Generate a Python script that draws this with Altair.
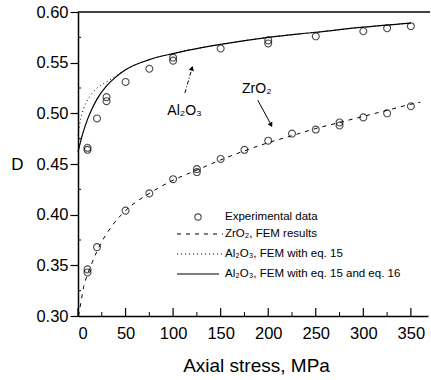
import altair as alt
import pandas as pd

al_x = [10, 10, 20, 30, 30, 50, 75, 100, 100, 150, 200, 200, 250, 300, 325, 350]
al_y = [0.466, 0.464, 0.495, 0.516, 0.512, 0.531, 0.544, 0.555, 0.552, 0.564, 0.572, 0.569, 0.576, 0.581, 0.584, 0.586]
zr_x = [10, 10, 20, 50, 75, 100, 125, 125, 150, 175, 200, 225, 250, 275, 275, 300, 325, 350]
zr_y = [0.346, 0.343, 0.368, 0.404, 0.421, 0.435, 0.445, 0.442, 0.455, 0.464, 0.473, 0.480, 0.484, 0.491, 0.488, 0.496, 0.500, 0.507]

# FEM curves
zr_fem_x = [0.5, 3, 6, 10, 15, 20, 35, 50, 75, 100, 125, 150, 175, 200, 225, 250, 275, 300, 325, 350, 360]
zr_fem_y = [0.300, 0.313, 0.329, 0.341, 0.353, 0.364, 0.388, 0.404, 0.421, 0.434, 0.444, 0.454, 0.463, 0.471, 0.478, 0.485, 0.491, 0.497, 0.503, 0.509, 0.511]
al15_x = [0, 3, 6, 10, 15, 20, 30, 40, 50, 75, 100, 150, 200, 250, 300, 350]
al15_y = [0.478, 0.495, 0.505, 0.513, 0.520, 0.525, 0.531, 0.537, 0.543, 0.553, 0.559, 0.568, 0.575, 0.580, 0.585, 0.589]
al16_x = [0, 5, 10, 15, 20, 30, 40, 50, 75, 100, 150, 200, 250, 300, 350]
al16_y = [0.462, 0.480, 0.494, 0.505, 0.514, 0.527, 0.536, 0.543, 0.553, 0.559, 0.568, 0.575, 0.580, 0.585, 0.589]

x_major = [0, 50, 100, 150, 200, 250, 300, 350]
x_minor = [25, 75, 125, 175, 225, 275, 325]
y_major = [0.30, 0.35, 0.40, 0.45, 0.50, 0.55, 0.60]
y_minor = [0.325, 0.375, 0.425, 0.475, 0.525, 0.575]

legend_labels = ["Experimental data", "ZrO₂, FEM results", "Al₂O₃, FEM with eq. 15", "Al₂O₃, FEM with eq. 15 and eq. 16"]

FONT = "Liberation Sans"
xs = alt.Scale(domain=[0, 368], nice=False)
ys = alt.Scale(domain=[0.30, 0.60], nice=False)

def df(x, y):
    return pd.DataFrame({"x": x, "y": y})

AX = alt.Axis(values=x_major, ticks=False, grid=False, labelPadding=9,
              labelFontSize=16.5, labelFont=FONT, labelColor="black",
              domainColor="black", domainWidth=1.5,
              title="Axial stress, MPa", titleFont=FONT, titleFontSize=19,
              titleFontWeight="normal", titleColor="black",
              titleX=178, titleY=55, titleBaseline="alphabetic", titleAlign="center")
AY = alt.Axis(values=y_major, format=".2f", grid=False, tickSize=8, tickColor="black",
              tickWidth=1.2, labelPadding=2, labelFontSize=16.5, labelFont=FONT,
              labelColor="black", domainColor="black", domainWidth=1.5,
              title="D", titleFont=FONT, titleFontSize=17, titleFontWeight="normal",
              titleColor="black", titleAngle=0, titleX=-61, titleY=152,
              titleAlign="center", titleBaseline="middle")

def X():
    return alt.X("x:Q", scale=xs, axis=AX)

def Y():
    return alt.Y("y:Q", scale=ys, axis=AY)

pts_al = alt.Chart(df(al_x, al_y)).mark_point(shape="circle", size=48, color="black", strokeWidth=1.1, filled=False).encode(
    x=X(), y=Y())
pts_zr = alt.Chart(df(zr_x, zr_y)).mark_point(shape="circle", size=48, color="black", strokeWidth=1.1, filled=False).encode(
    x=X(), y=Y())

line_zr = alt.Chart(df(zr_fem_x, zr_fem_y)).mark_line(color="black", strokeWidth=1, strokeDash=[4, 5], interpolate="monotone").encode(x=X(), y=Y())
line_15 = alt.Chart(df(al15_x, al15_y)).mark_line(color="black", strokeWidth=1, strokeDash=[1, 3], interpolate="monotone").encode(x=X(), y=Y())
line_16 = alt.Chart(df(al16_x, al16_y)).mark_line(color="black", strokeWidth=1.2, interpolate="monotone").encode(x=X(), y=Y())

# inward ticks
tk_xmaj = alt.Chart(pd.DataFrame({"x": x_major})).mark_rule(color="black", strokeWidth=1.2).encode(
    x=X(), y=alt.value(304), y2=alt.value(296))
tk_xmin = alt.Chart(pd.DataFrame({"x": x_minor})).mark_rule(color="black", strokeWidth=1).encode(
    x=X(), y=alt.value(304), y2=alt.value(300))
tk_ymin = alt.Chart(pd.DataFrame({"y": y_minor})).mark_rule(color="black", strokeWidth=1).encode(
    y=Y(), x=alt.value(0), x2=alt.value(3))
top_border = alt.Chart(pd.DataFrame({"y": [0.60]})).mark_rule(color="black", strokeWidth=1.5).encode(
    y=Y(), x=alt.value(0), x2=alt.value(352))

# annotations
ann_text = alt.Chart(pd.DataFrame({"x": [112, 188], "y": [0.502, 0.524], "t": ["Al₂O₃", "ZrO₂"]})).mark_text(
    font=FONT, fontSize=14, color="black", align="center", baseline="middle").encode(x=X(), y=Y(), text="t:N")
arr_al = alt.Chart(pd.DataFrame({"x": [112.4, 120.0], "y": [0.520, 0.545]})).mark_line(
    color="black", strokeWidth=1, strokeDash=[4, 2, 1, 2]).encode(x=X(), y=Y())
arr_zr = alt.Chart(pd.DataFrame({"x": [189, 203.5], "y": [0.513, 0.488]})).mark_line(
    color="black", strokeWidth=1).encode(x=X(), y=Y())
head_al = alt.Chart(pd.DataFrame({"x": [119.8], "y": [0.5445]})).mark_point(
    shape="triangle-up", filled=True, size=28, color="black", angle=16, opacity=1).encode(x=X(), y=Y())
head_zr = alt.Chart(pd.DataFrame({"x": [203.0], "y": [0.4885]})).mark_point(
    shape="triangle-up", filled=True, size=28, color="black", angle=152, opacity=1).encode(x=X(), y=Y())

# legend (pixel layout)
leg_txt = alt.Chart(pd.DataFrame({"t": legend_labels, "py": [205, 222, 242, 262]})).mark_text(
    font=FONT, fontSize=11.5, color="black", align="left", baseline="middle").encode(
    x=alt.value(147), y=alt.Y("py:Q", scale=None), text="t:N")
leg_pt = alt.Chart(pd.DataFrame({"k": [0]})).mark_point(shape="circle", size=40, color="black", filled=False, strokeWidth=1.1).encode(
    x=alt.value(120), y=alt.value(205))
leg_l1 = alt.Chart(pd.DataFrame({"k": [0]})).mark_rule(color="black", strokeWidth=1, strokeDash=[4, 5]).encode(
    x=alt.value(99), x2=alt.value(145), y=alt.value(222))
leg_l2 = alt.Chart(pd.DataFrame({"k": [0]})).mark_rule(color="black", strokeWidth=1, strokeDash=[1, 3]).encode(
    x=alt.value(99), x2=alt.value(145), y=alt.value(242))
leg_l3 = alt.Chart(pd.DataFrame({"k": [0]})).mark_rule(color="black", strokeWidth=1.2).encode(
    x=alt.value(99), x2=alt.value(141), y=alt.value(262))

chart = alt.layer(
    pts_al, pts_zr, line_zr, line_15, line_16, tk_xmaj, tk_xmin, tk_ymin, top_border,
    ann_text, arr_al, arr_zr, head_al, head_zr,
    leg_txt, leg_pt, leg_l1, leg_l2, leg_l3
).properties(
    width=350, height=304,
    padding={"left": 78, "top": 12, "right": 3, "bottom": 64},
    autosize=alt.AutoSizeParams(type="none"),
    background="white"
).configure_view(stroke=None)

chart.save("out.html", embed_options={"renderer": "svg", "actions": False})
